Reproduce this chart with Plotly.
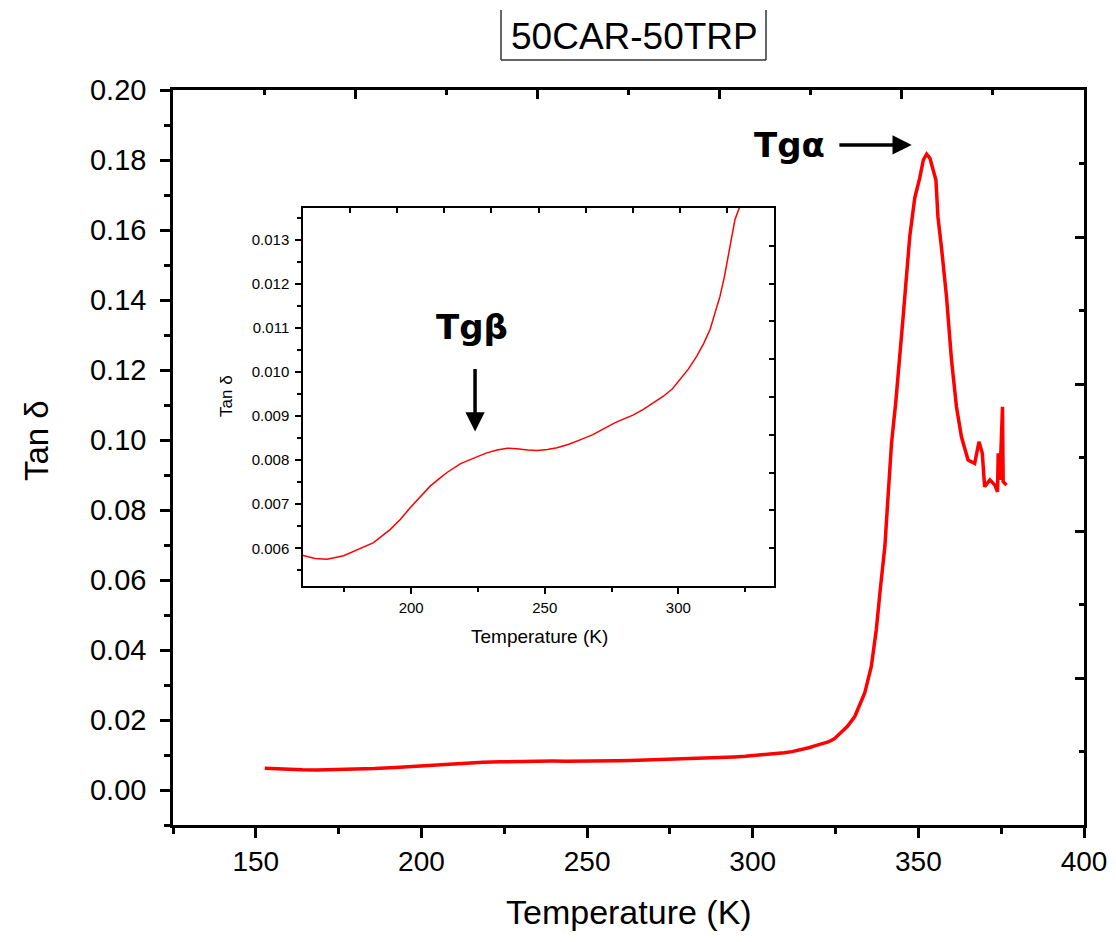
import plotly.graph_objects as go

# Tan delta vs temperature for the 50CAR-50TRP blend
temperature_k = [
    152.7, 159.5, 164.0, 168.5, 174.7, 180.0, 185.9, 192.2, 196.0, 199.6,
    203.5, 207.1, 210.5, 213.4, 218.5, 224.0, 228.0, 232.1, 236.0, 239.6,
    243.5, 247.1, 251.0, 254.6, 259.0, 263.2, 268.0, 272.0, 276.0, 279.4,
    283.0, 286.9, 290.5, 294.4, 297.8, 300.7, 303.8, 306.9, 309.5, 311.9,
    313.8, 315.6, 317.2, 318.7, 320.0, 321.2, 322.8, 324.6, 326.3, 328.6,
    330.8, 333.8, 335.8, 337.3, 338.5, 339.9, 340.6, 341.2, 341.9, 343.2,
    344.4, 345.4, 347.4, 348.9, 350.4, 351.5, 352.5, 353.5, 355.3, 355.9,
    357.0, 358.5, 360.0, 361.5, 363.0, 365.0, 367.0, 368.3, 369.3, 370.0,
    371.6, 373.1, 373.9, 374.1, 374.6, 375.4, 375.6, 376.6,
]
tan_delta = [
    0.00620, 0.00584, 0.00577, 0.00575, 0.00583, 0.00597, 0.00613, 0.00643, 0.00666, 0.00692,
    0.00718, 0.00741, 0.00758, 0.00772, 0.00792, 0.00806, 0.00816, 0.00823, 0.00827, 0.00826,
    0.00823, 0.00822, 0.00824, 0.00828, 0.00836, 0.00846, 0.00858, 0.00871, 0.00884, 0.00893,
    0.00902, 0.00915, 0.00929, 0.00945, 0.00962, 0.00983, 0.01007, 0.01036, 0.01065, 0.01097,
    0.01133, 0.01172, 0.01215, 0.01263, 0.01303, 0.01346, 0.01372, 0.01460, 0.01620, 0.01820,
    0.02100, 0.02770, 0.03530, 0.04580, 0.05730, 0.06970, 0.08020, 0.08860, 0.09910, 0.11100,
    0.12290, 0.13520, 0.15810, 0.16910, 0.17480, 0.18000, 0.18170, 0.18050, 0.17430, 0.16380,
    0.15480, 0.14090, 0.12290, 0.10950, 0.10090, 0.09430, 0.09330, 0.09950, 0.09620, 0.08670,
    0.08860, 0.08710, 0.08520, 0.09620, 0.08860, 0.10950, 0.08810, 0.08710,
]

main_xticks = [150, 200, 250, 300, 350, 400]
inset_xticks = [200, 250, 300]

W, H = 1116, 942
FONT = "Liberation Sans, Arial, sans-serif"
BOLD = "DejaVu Sans, Verdana, sans-serif"


def px_x(p):
    return p / W


def px_y(p):
    return 1 - p / H


main_x_dom = [px_x(173), px_x(1084)]
main_y_dom = [px_y(825), px_y(90)]
inset_x_dom = [px_x(303), px_x(774)]
inset_y_dom = [px_y(586), px_y(208)]

fig = go.Figure()

fig.add_trace(go.Scatter(
    x=temperature_k, y=tan_delta, mode="lines",
    line=dict(color="#ff0000", width=3.5),
    xaxis="x", yaxis="y", showlegend=False, hoverinfo="skip",
))
fig.add_trace(go.Scatter(
    x=temperature_k, y=tan_delta, mode="lines",
    line=dict(color="#ff0000", width=1.5),
    xaxis="x2", yaxis="y2", showlegend=False, hoverinfo="skip",
))
# empty traces so the tick-only top/right frames get drawn
fig.add_trace(go.Scatter(x=[None], y=[None], xaxis="x3", yaxis="y3",
                         showlegend=False, hoverinfo="skip"))
fig.add_trace(go.Scatter(x=[None], y=[None], xaxis="x4", yaxis="y4",
                         showlegend=False, hoverinfo="skip"))

axis_common = dict(showgrid=False, zeroline=False, linecolor="black",
                   tickcolor="black", ticks="outside", automargin=False)
frame_common = dict(showgrid=False, zeroline=False, showticklabels=False,
                    showline=True, linecolor="black", tickcolor="black",
                    ticks="inside", automargin=False)

fig.update_layout(
    width=W, height=H,
    margin=dict(l=0, r=0, t=0, b=0, autoexpand=False),
    paper_bgcolor="white", plot_bgcolor="white",
    font=dict(family=FONT, color="black"),
    xaxis=dict(
        **axis_common, domain=main_x_dom, anchor="y",
        range=[125, 400], tickvals=main_xticks,
        linewidth=2.5, tickwidth=2.5, ticklen=10,
        minor=dict(dtick=25, tick0=0, ticks="outside", ticklen=6,
                   tickwidth=2.5, tickcolor="black"),
        tickfont=dict(size=28), ticklabelstandoff=0,
    ),
    yaxis=dict(
        **axis_common, domain=main_y_dom, anchor="x",
        range=[-0.01, 0.20], dtick=0.02, tick0=0, tickformat=".2f",
        linewidth=2.5, tickwidth=2.5, ticklen=10,
        minor=dict(dtick=0.01, tick0=0, ticks="outside", ticklen=6,
                   tickwidth=2.5, tickcolor="black"),
        tickfont=dict(size=29), ticklabelstandoff=8,
    ),
    xaxis3=dict(
        **frame_common, overlaying="x", side="top", anchor="y",
        range=[0, 5], dtick=1, linewidth=2.5, ticklen=9, tickwidth=2.5,
        minor=dict(dtick=0.5, ticks="inside", ticklen=5, tickwidth=2.5,
                   tickcolor="black"),
    ),
    yaxis3=dict(
        **frame_common, overlaying="y", side="right", anchor="x",
        range=[0, 5], dtick=1, linewidth=2.5, ticklen=9, tickwidth=2.5,
        minor=dict(dtick=0.5, ticks="inside", ticklen=5, tickwidth=2.5,
                   tickcolor="black"),
    ),
    xaxis2=dict(
        **axis_common, domain=inset_x_dom, anchor="y2",
        range=[159.5, 335.8], tickvals=inset_xticks,
        linewidth=1.5, tickwidth=1.5, ticklen=6,
        minor=dict(dtick=25, tick0=0, ticks="outside", ticklen=4,
                   tickwidth=1.5, tickcolor="black"),
        tickfont=dict(size=15), ticklabelstandoff=1,
    ),
    yaxis2=dict(
        **axis_common, domain=inset_y_dom, anchor="x2",
        range=[0.005145, 0.01372], dtick=0.001, tick0=0, tickformat=".3f",
        linewidth=1.5, tickwidth=1.5, ticklen=6,
        minor=dict(dtick=0.0005, tick0=0, ticks="outside", ticklen=4,
                   tickwidth=1.5, tickcolor="black"),
        tickfont=dict(size=15), ticklabelstandoff=3,
    ),
    xaxis4=dict(
        **frame_common, overlaying="x2", side="top", anchor="y2",
        range=[0, 10], dtick=1, linewidth=1.5, ticklen=5, tickwidth=1.5,
    ),
    yaxis4=dict(
        **frame_common, overlaying="y2", side="right", anchor="x2",
        range=[0, 10], dtick=1, linewidth=1.5, ticklen=5, tickwidth=1.5,
    ),
)

centered = dict(showarrow=False, xanchor="center", yanchor="middle")
annotations = [
    # chart title
    dict(text="50CAR-50TRP", xref="paper", yref="paper",
         x=px_x(634), y=px_y(37), font=dict(size=37, family=FONT), **centered),
    # main axis titles
    dict(text="Temperature (K)", xref="paper", yref="paper",
         x=px_x(629), y=px_y(912), font=dict(size=34, family=FONT), **centered),
    dict(text="Tan δ", xref="paper", yref="paper", textangle=-90,
         x=px_x(36), y=px_y(441), font=dict(size=33, family=FONT), **centered),
    # inset axis titles
    dict(text="Temperature (K)", xref="paper", yref="paper",
         x=px_x(539), y=px_y(636), font=dict(size=19, family=FONT), **centered),
    dict(text="Tan δ", xref="paper", yref="paper", textangle=-90,
         x=px_x(226), y=px_y(396), font=dict(size=17, family=FONT), **centered),
    # alpha transition label and arrow
    dict(text="<b>Tgα</b>", xref="x", yref="y", x=311.0, y=0.1843,
         font=dict(size=34, family=BOLD), **centered),
    dict(text="", xref="x", yref="y", x=348.0, y=0.1843,
         axref="x", ayref="y", ax=325.7, ay=0.1843,
         showarrow=True, arrowhead=2, arrowsize=1.1, arrowwidth=3.5,
         arrowcolor="black"),
    # beta transition label and arrow
    dict(text="<b>Tgβ</b>", xref="x2", yref="y2", x=222.8, y=0.01103,
         font=dict(size=34, family=BOLD), **centered),
    dict(text="", xref="x2", yref="y2", x=223.9, y=0.00865,
         axref="x2", ayref="y2", ax=223.9, ay=0.0101,
         showarrow=True, arrowhead=2, arrowsize=1.1, arrowwidth=3.5,
         arrowcolor="black"),
]
fig.update_layout(annotations=annotations)

# open frame around the title
frame = dict(color="#333333", width=1.5)
fig.update_layout(shapes=[
    dict(type="line", xref="paper", yref="paper",
         x0=px_x(501), y0=px_y(10), x1=px_x(501), y1=px_y(60), line=frame),
    dict(type="line", xref="paper", yref="paper",
         x0=px_x(501), y0=px_y(60), x1=px_x(766), y1=px_y(60), line=frame),
    dict(type="line", xref="paper", yref="paper",
         x0=px_x(766), y0=px_y(10), x1=px_x(766), y1=px_y(60), line=frame),
])

fig.write_html("out.html")
